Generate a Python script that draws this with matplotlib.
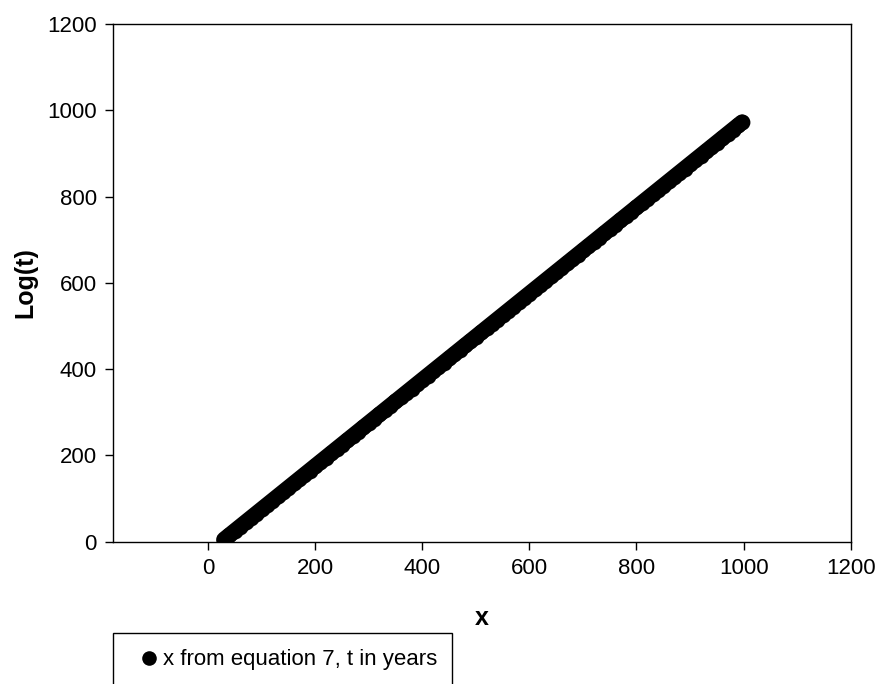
import matplotlib
matplotlib.use("Agg")
import matplotlib.pyplot as plt
from matplotlib.patches import Rectangle
from matplotlib.lines import Line2D

plt.rcParams['font.family'] = ['Liberation Sans', 'DejaVu Sans']

x_vals = [30, 40, 50, 60, 70, 80, 90, 100, 110, 120, 130, 140, 150, 160, 170,
          180, 190, 200, 210, 220, 230, 240, 250, 260, 270, 280, 290, 300, 310,
          320, 330, 340, 350, 360, 370, 380, 390, 400, 410, 420, 430, 440, 450,
          460, 470, 480, 490, 500, 510, 520, 530, 540, 550, 560, 570, 580, 590,
          600, 610, 620, 630, 640, 650, 660, 670, 680, 690, 700, 710, 720, 730,
          740, 750, 760, 770, 780, 790, 800, 810, 820, 830, 840, 850, 860, 870,
          880, 890, 900, 910, 920, 930, 940, 950, 960, 970, 980, 990, 997]
log_t = [5, 15, 25, 35, 45, 55, 65, 75, 85, 95, 105, 115, 125, 135, 145,
         155, 165, 175, 185, 195, 205, 215, 225, 235, 245, 255, 265, 275, 285,
         295, 305, 315, 325, 335, 345, 355, 365, 375, 385, 395, 405, 415, 425,
         435, 445, 455, 465, 475, 485, 495, 505, 515, 525, 535, 545, 555, 565,
         575, 585, 595, 605, 615, 625, 635, 645, 655, 665, 675, 685, 695, 705,
         715, 725, 735, 745, 755, 765, 775, 785, 795, 805, 815, 825, 835, 845,
         855, 865, 875, 885, 895, 905, 915, 925, 935, 945, 955, 965, 972]

x_ticks = [0, 200, 400, 600, 800, 1000, 1200]
y_ticks = [0, 200, 400, 600, 800, 1000, 1200]
series_label = "x from equation 7, t in years"

fig = plt.figure(figsize=(8.93, 6.84), dpi=100)
ax = fig.add_axes([112.7/893, 1-541.7/684, (850.7-112.7)/893, (541.7-24)/684])

# dense markers (drawn with a matching round-capped stroke so they merge smoothly)
ax.plot(x_vals, log_t, linestyle='-', linewidth=11.4, solid_capstyle='round',
        solid_joinstyle='round', marker='o', markersize=11.4,
        color='black', markeredgewidth=0, label=series_label)

ax.set_xlim(-178, 1200)
ax.set_ylim(0, 1200)
ax.set_xticks(x_ticks)
ax.set_yticks(y_ticks)
ax.tick_params(axis='both', direction='out', length=5.5, width=1.0,
               labelsize=16, pad=6)
for s in ax.spines.values():
    s.set_linewidth(1.0)

ax.set_xlabel('x', fontsize=18, fontweight='bold', labelpad=20)
ax.set_ylabel('Log(t)', fontsize=18, fontweight='bold', labelpad=7)

# legend box (cut off at the bottom of the figure)
top = 1 - 633/684
rect = Rectangle((112.7/893, top - 0.2), (451.7-112.7)/893, 0.2,
                 transform=fig.transFigure, fill=False, edgecolor='black',
                 linewidth=1.0, clip_on=False)
fig.add_artist(rect)
handle = Line2D([], [], linestyle='none', marker='o', markersize=10.5,
                color='black', markeredgewidth=0)
fig.legend([handle], [series_label], loc='center left',
           bbox_to_anchor=(141/893, 1-660/684), frameon=False,
           fontsize=16, handlelength=0.7, handletextpad=0.3,
           borderpad=0, borderaxespad=0)

fig.savefig('out.png', dpi=100)
